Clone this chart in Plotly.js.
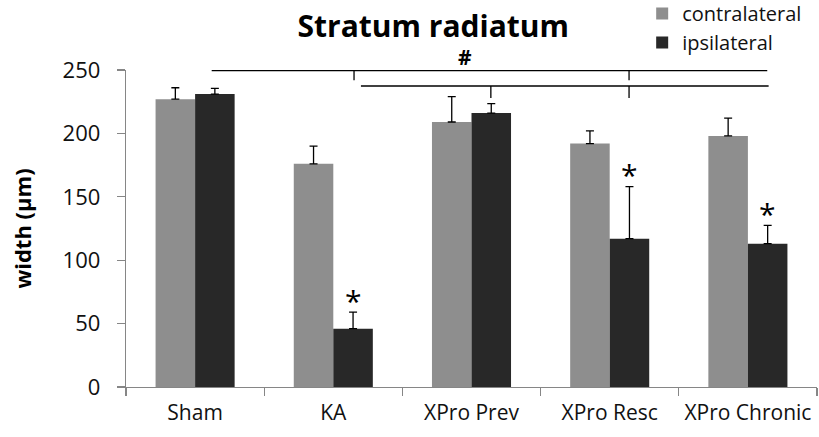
<!DOCTYPE html>
<html>
<head>
<meta charset="utf-8">
<script src="https://cdn.plot.ly/plotly-3.0.1.min.js"></script>
<style>html,body{margin:0;padding:0;background:#fff;}#chart{width:819px;height:437px;}</style>
</head>
<body>
<div id="chart"></div>
<script>
// ---- data ----
var categories = ['Sham', 'KA', 'XPro Prev', 'XPro Resc', 'XPro Chronic'];
var contralateral = [227, 176, 209, 192, 198];
var contralateralErr = [9, 14, 20, 10, 14];
var ipsilateral = [231, 46, 216, 117, 113];
var ipsilateralErr = [4.5, 13, 7.5, 41, 14.5];
var ipsiSignificant = [false, true, false, true, true];
var seriesNames = ['contralateral', 'ipsilateral'];
var yRange = [0, 250];
var yTicks = [0, 50, 100, 150, 200, 250];
// significance brackets in category / value units
var bracketUpper = {x0: 0.12, x1: 4.14, y: 249.6, yDrop: 242, drops: [1.15, 3.14]};
var bracketLower = {x0: 1.2, x1: 4.15, y: 237.4, yDrop: 228, drops: [2.14, 3.14]};
var hashLabel = {x: 1.95, y: 260, text: '#'};

var FONT = 'Open Sans, Segoe UI, sans-serif';
var bargap = 0.428;
var ipsiOffset = (1 - bargap) / 4;

var traces = [
  {
    type: 'bar', name: seriesNames[0], x: categories, y: contralateral,
    marker: {color: '#8e8e8e', line: {width: 0}},
    error_y: {type: 'data', array: contralateralErr, arrayminus: contralateralErr.map(function(){return 0;}), symmetric: false, color: '#000', thickness: 1.3, width: 4}
  },
  {
    type: 'bar', name: seriesNames[1], x: categories, y: ipsilateral,
    marker: {color: '#282828', line: {width: 0}},
    error_y: {type: 'data', array: ipsilateralErr, arrayminus: ipsilateralErr.map(function(){return 0;}), symmetric: false, color: '#000', thickness: 1.3, width: 4}
  }
];

var shapes = [];
[bracketUpper, bracketLower].forEach(function (b) {
  shapes.push({type: 'line', xref: 'x', yref: 'y', x0: b.x0, x1: b.x1, y0: b.y, y1: b.y, line: {color: '#000', width: 1.3}});
  b.drops.forEach(function (d) {
    shapes.push({type: 'line', xref: 'x', yref: 'y', x0: d, x1: d, y0: b.y, y1: b.yDrop, line: {color: '#000', width: 1.3}});
  });
});

var annotations = [];
ipsiSignificant.forEach(function (s, i) {
  if (!s) return;
  annotations.push({
    xref: 'x', yref: 'y', x: i + ipsiOffset, y: ipsilateral[i] + ipsilateralErr[i],
    text: '*', showarrow: false, yanchor: 'middle', xanchor: 'center', yshift: 12,
    font: {family: FONT, size: 30, color: '#000'}
  });
});
annotations.push({
  xref: 'x', yref: 'paper', x: hashLabel.x, y: (hashLabel.y - yRange[0]) / (yRange[1] - yRange[0]),
  text: '<b>' + hashLabel.text + '</b>',
  showarrow: false, yanchor: 'middle', xanchor: 'center',
  font: {family: FONT, size: 21, color: '#000'}
});

var layout = {
  width: 819, height: 437,
  margin: {l: 126, r: 2, t: 70, b: 50, autoexpand: false},
  paper_bgcolor: '#fff', plot_bgcolor: '#fff',
  font: {family: FONT, color: '#111'},
  title: {text: '<b>Stratum radiatum</b>', x: 0.529, xanchor: 'center', xref: 'container', y: 0.94, yanchor: 'middle', font: {family: FONT, size: 30, color: '#000'}},
  barmode: 'group', bargap: bargap, bargroupgap: 0,
  showlegend: true,
  legend: {x: 0.747, y: 1.24, xanchor: 'left', yanchor: 'top', xref: 'paper', yref: 'paper', font: {family: FONT, size: 20, color: '#111'}, bgcolor: 'rgba(0,0,0,0)', tracegroupgap: 0, itemwidth: 30},
  xaxis: {
    type: 'category', showline: true, linecolor: '#868686', linewidth: 1.3,
    ticks: 'outside', tickson: 'boundaries', ticklen: 8, tickcolor: '#868686', tickwidth: 1.3,
    tickangle: 0,
    tickfont: {family: FONT, size: 21, color: '#111'}, showgrid: false, zeroline: false,
    ticklabelstandoff: 6
  },
  yaxis: {
    range: yRange, tickvals: yTicks, showline: true, linecolor: '#868686', linewidth: 1.3,
    ticks: 'outside', ticklen: 8, tickcolor: '#868686', tickwidth: 1.3,
    tickfont: {family: FONT, size: 22, color: '#111'}, showgrid: false, zeroline: false,
    ticklabelstandoff: 12,
    title: {text: '<b>width (µm)</b>', font: {family: FONT, size: 22, color: '#000'}, standoff: 24}
  },
  shapes: shapes,
  annotations: annotations
};

Plotly.newPlot('chart', traces, layout, {displayModeBar: false, staticPlot: true});
</script>
</body>
</html>
